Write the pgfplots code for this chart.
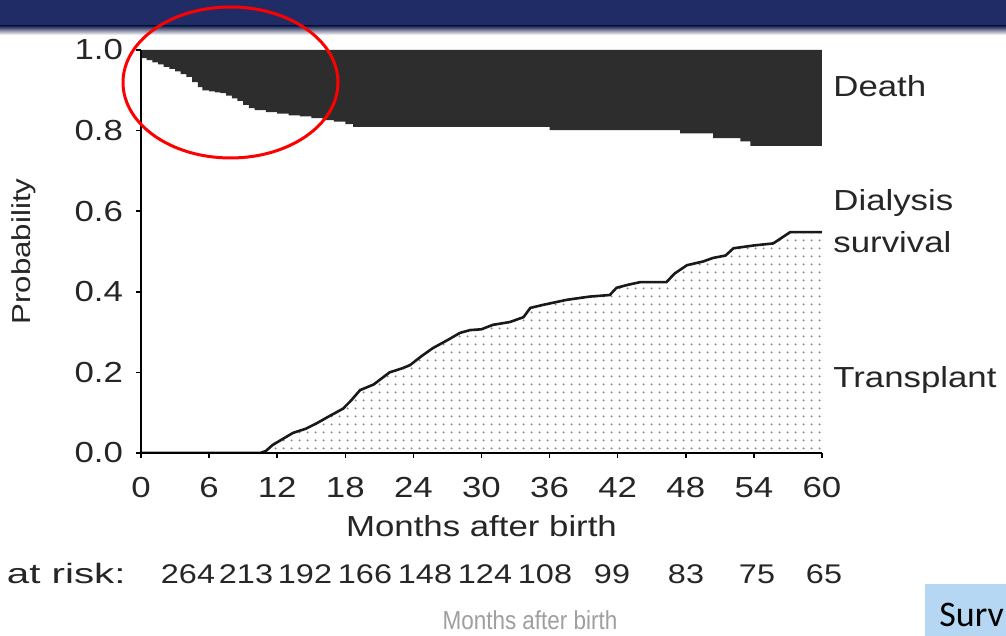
\documentclass[border=0pt]{standalone}
\usepackage{fontspec}
\setmainfont{Liberation Sans}[FakeStretch=1.2]
\newfontfamily\calibri{Carlito}
\usepackage{graphicx}
\usepackage{pgfplots}
\pgfplotsset{compat=1.18}
\usetikzlibrary{patterns.meta}
\definecolor{navy}{HTML}{1F2C66}
\definecolor{deathc}{HTML}{2D2D2D}
\definecolor{survbox}{HTML}{B5D7F4}
\pgfdeclarepattern{
  name=kmdots, type=uncolored,
  bottom left={\pgfpoint{0pt}{0pt}}, top right={\pgfpoint{3.8pt}{4pt}},
  tile size={\pgfpoint{3.8pt}{4pt}},
  code={\pgfpathcircle{\pgfpoint{1.9pt}{2pt}}{0.6pt}\pgfusepath{fill}}
}
\begin{document}
\begin{tikzpicture}
\useasboundingbox (0,0) rectangle (503pt,318pt);
\begin{scope}[x=0.5pt,y=0.5pt]
\fill[white] (0,0) rectangle (1006,636);
\fill[navy] (0,610) rectangle (1006,636);
\shade[top color=navy!80!black, bottom color=white] (0,601) rectangle (1006,610);
\end{scope}
\begin{axis}[
  at={(70.5pt,91.5pt)}, anchor=south west,
  scale only axis, width=340.5pt, height=201.5pt,
  xmin=0, xmax=60, ymin=0, ymax=1,
  axis x line*=bottom, axis y line*=left,
  axis line style={line width=1pt, -},
  xtick={0,6,...,60}, ytick={0,0.2,0.4,0.6,0.8,1.0},
  tick align=outside, major tick length=2.5pt,
  tick style={black, line width=0.8pt},
  /pgf/number format/assume math mode=true,
  yticklabel style={/pgf/number format/fixed, /pgf/number format/fixed zerofill, /pgf/number format/precision=1, xshift=-3pt},
  xticklabel style={yshift=-6pt},
  ticklabel style={font=\fontsize{14.5}{16}\selectfont, text=black!85},
  xlabel={Months after birth},
  xlabel style={at={(axis description cs:0.5,-0.182)}, anchor=center, font=\fontsize{14.5}{16}\selectfont, text=black!85},
  ylabel={Probability},
  ylabel style={at={(axis description cs:-0.172,0.5)}, anchor=center, font=\fontsize{13}{15}\selectfont, text=black!85},
  axis on top,
]
\addplot[const plot, fill=deathc, draw=none] coordinates {
 (0,1) (0,0.98) (0.5,0.975) (1,0.969) (1.5,0.964) (2,0.958) (2.5,0.953) (3,0.947)
 (3.5,0.94) (4,0.933) (4.5,0.92) (5,0.908) (5.4,0.90) (6,0.897) (6.5,0.895) (7,0.893)
 (7.5,0.887) (8,0.88) (8.5,0.874) (9,0.864) (9.5,0.856) (10,0.851) (11,0.846) (12,0.842)
 (13,0.838) (14,0.835) (15,0.831) (16,0.826) (17,0.822) (18,0.816) (18.7,0.809)
 (36.0,0.801) (47.5,0.793) (50.4,0.781) (52.8,0.773) (53.7,0.762) (60,0.762) (60,1)};
\addplot[draw=none, pattern=kmdots, pattern color=gray!90] coordinates {
 (0,0) (10.5,0) (11,0.005) (11.6,0.02) (12.5,0.035) (13.4,0.05) (14.5,0.06) (15.5,0.074)
 (16.5,0.09) (17.8,0.11) (18.5,0.13) (19.3,0.156) (20.5,0.17) (21.9,0.20) (23,0.21)
 (23.7,0.218) (24.7,0.24) (25.7,0.26) (27,0.28) (28.1,0.298) (29,0.305) (30,0.307)
 (31,0.318) (32.5,0.325) (33.7,0.337) (34.3,0.36) (35.5,0.368) (37.5,0.38) (39.5,0.388)
 (41.3,0.392) (41.9,0.41) (43,0.418) (44,0.424) (46.3,0.424) (47,0.445) (48.1,0.466)
 (49.5,0.475) (50.4,0.484) (51.5,0.49) (52.2,0.508) (54,0.515) (55.7,0.52) (56.5,0.535)
 (57.2,0.548) (60,0.548)} \closedcycle;
\addplot[black!90, line width=1.3pt] coordinates {
 (0,0) (10.5,0) (11,0.005) (11.6,0.02) (12.5,0.035) (13.4,0.05) (14.5,0.06) (15.5,0.074)
 (16.5,0.09) (17.8,0.11) (18.5,0.13) (19.3,0.156) (20.5,0.17) (21.9,0.20) (23,0.21)
 (23.7,0.218) (24.7,0.24) (25.7,0.26) (27,0.28) (28.1,0.298) (29,0.305) (30,0.307)
 (31,0.318) (32.5,0.325) (33.7,0.337) (34.3,0.36) (35.5,0.368) (37.5,0.38) (39.5,0.388)
 (41.3,0.392) (41.9,0.41) (43,0.418) (44,0.424) (46.3,0.424) (47,0.445) (48.1,0.466)
 (49.5,0.475) (50.4,0.484) (51.5,0.49) (52.2,0.508) (54,0.515) (55.7,0.52) (56.5,0.535)
 (57.2,0.548) (60,0.548)};
\end{axis}
\begin{scope}[x=0.5pt,y=0.5pt, every node/.style={font=\fontsize{14.5}{16}\selectfont, text=black!85, inner sep=0pt}]
\node[anchor=west] at (833,550) {Death};
\node[anchor=west] at (833,433) {Dialysis};
\node[anchor=west] at (833,394) {survival};
\node[anchor=west] at (833,256) {Transplant};
\node[anchor=base east, font=\fontsize{14}{16}\selectfont] at (126,52) {\scalebox{1.2}[1]{at risk:}};
\foreach \v/\xx in {264/188,213/246,192/305,166/365,148/425,124/485,108/545,99/612,83/686,75/757,65/824}
  \node[anchor=base, font=\fontsize{13.5}{15}\selectfont] at (\xx,52) {\v};
\node[text=gray!75, font=\fontsize{13}{15}\selectfont] at (530,16) {\scalebox{0.72}[1]{Months after birth}};
\fill[survbox] (925,0) rectangle (1006,52);
\node[anchor=base west, text=black, font=\calibri\fontsize{18}{20}\selectfont] at (939,9) {Surv};
\draw[red, line width=1.5pt] (230.5,553.5) ellipse [x radius=107.5, y radius=75.5];
\end{scope}
\end{tikzpicture}
\end{document}
